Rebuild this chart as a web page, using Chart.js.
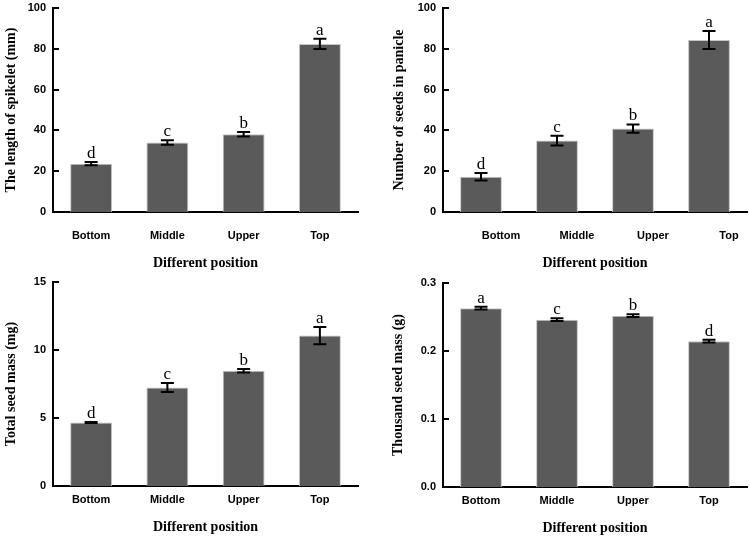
<!DOCTYPE html>
<html>
<head>
<meta charset="utf-8">
<script src="https://cdn.jsdelivr.net/npm/chart.js@4.4.1/dist/chart.umd.min.js"></script>
<style>
  body { margin: 0; background: #fff; }
  #wrap { position: relative; width: 750px; height: 538px; }
  canvas { position: absolute; }
</style>
</head>
<body>
<div id="wrap">
  <canvas id="c1" width="375" height="275" style="left:0;top:0"></canvas>
  <canvas id="c2" width="375" height="275" style="left:375px;top:0"></canvas>
  <canvas id="c3" width="375" height="269" style="left:0;top:269px"></canvas>
  <canvas id="c4" width="375" height="269" style="left:375px;top:269px"></canvas>
</div>
<script>
// data
const positions = ["Bottom", "Middle", "Upper", "Top"]
const xTitle = "Different position"

const spikeletLength = [23.7, 34.1, 38.1, 82.4]
const spikeletLengthErr = [0.8, 1.1, 1.1, 2.5]
const spikeletLetters = ["d", "c", "b", "a"]

const seedsInPanicle = [17.3, 35.0, 40.9, 84.3]
const seedsInPanicleErr = [1.8, 2.4, 2.0, 4.4]
const seedsLetters = ["d", "c", "b", "a"]

const totalSeedMass = [4.67, 7.25, 8.48, 11.06]
const totalSeedMassErr = [0.03, 0.33, 0.13, 0.63]
const totalMassLetters = ["d", "c", "b", "a"]

const thousandSeedMass = [0.263, 0.246, 0.252, 0.2145]
const thousandSeedMassErr = [0.002, 0.002, 0.002, 0.002]
const thousandLetters = ["a", "c", "b", "d"]

Chart.defaults.font.family = "'Liberation Sans', Arial, sans-serif"
Chart.defaults.color = "#000"

// error bars, significance letters and inward y ticks
const errorBarPlugin = {
  id: "errorBars",
  afterDatasetsDraw(chart, args, opts) {
    const ctx = chart.ctx
    const y = chart.scales.y
    const area = chart.chartArea
    ctx.save()
    ctx.strokeStyle = "#000"
    ctx.lineWidth = 2
    y.ticks.forEach(function (t) {
      const py = Math.round(y.getPixelForValue(t.value))
      ctx.beginPath()
      ctx.moveTo(area.left, py)
      ctx.lineTo(area.left + 6, py)
      ctx.stroke()
    })
    const meta = chart.getDatasetMeta(0)
    const values = chart.data.datasets[0].data
    meta.data.forEach(function (bar, i) {
      const v = values[i]
      const e = opts.errors[i]
      const top = y.getPixelForValue(v + e)
      const bot = y.getPixelForValue(v - e)
      ctx.beginPath()
      ctx.moveTo(bar.x, top)
      ctx.lineTo(bar.x, bot)
      ctx.moveTo(bar.x - 6.5, top)
      ctx.lineTo(bar.x + 6.5, top)
      ctx.moveTo(bar.x - 6.5, bot)
      ctx.lineTo(bar.x + 6.5, bot)
      ctx.stroke()
      ctx.fillStyle = "#000"
      ctx.font = "17px 'Liberation Serif', 'Times New Roman', serif"
      ctx.textAlign = "center"
      ctx.textBaseline = "alphabetic"
      ctx.fillText(opts.letters[i], bar.x, top - 4)
    })
    ctx.restore()
  },
}

function makeChart(id, values, errors, letters, yMax, yStep, yTitle, decimals, lay) {
  return new Chart(document.getElementById(id), {
    type: "bar",
    data: {
      labels: positions,
      datasets: [
        {
          data: values,
          backgroundColor: "#5a5a5a",
          borderColor: "#c4c4c4",
          borderWidth: 1,
          barPercentage: 0.55,
          categoryPercentage: 1,
        },
      ],
    },
    options: {
      responsive: false,
      animation: false,
      layout: {
        autoPadding: false,
        padding: { left: 0, top: lay.top, right: lay.right, bottom: 0 },
      },
      plugins: {
        legend: { display: false },
        tooltip: { enabled: false },
        errorBars: { errors: errors, letters: letters },
      },
      scales: {
        x: {
          grid: { display: false, drawTicks: false },
          border: { color: "#000", width: 2 },
          ticks: {
            padding: lay.xTickPad,
            labelOffset: lay.labelOffset,
            font: { size: 11, weight: "bold" },
          },
          title: {
            display: true,
            text: xTitle,
            font: { family: "'Liberation Serif', 'Times New Roman', serif", size: 14, weight: "bold" },
            padding: { top: 0, bottom: lay.xTitlePad },
          },
          afterFit(scale) {
            scale.height = lay.xHeight
            scale.paddingLeft = 0
            scale.paddingRight = 0
          },
        },
        y: {
          min: 0,
          max: yMax,
          grid: { display: false, drawTicks: false },
          border: { color: "#000", width: 2 },
          ticks: {
            stepSize: yStep,
            padding: 7,
            font: { size: 11, weight: "bold" },
            callback: function (v) {
              return v.toFixed(decimals)
            },
          },
          title: {
            display: true,
            text: yTitle,
            font: { family: "'Liberation Serif', 'Times New Roman', serif", size: 14, weight: "bold" },
            padding: { top: lay.yTitlePad, bottom: 0 },
          },
          afterFit(scale) {
            scale.width = lay.yWidth
            scale.paddingTop = 0
            scale.paddingBottom = 0
          },
        },
      },
    },
    plugins: [errorBarPlugin],
  })
}

makeChart("c1", spikeletLength, spikeletLengthErr, spikeletLetters, 100, 20,
  "The length of spikelet (mm)", 0,
  { top: 8, right: 17, yWidth: 53, xHeight: 63, xTickPad: 17, xTitlePad: 3.6, yTitlePad: 3, labelOffset: 0 })

makeChart("c2", seedsInPanicle, seedsInPanicleErr, seedsLetters, 100, 20,
  "Number of seeds in panicle", 0,
  { top: 8, right: 3, yWidth: 68, xHeight: 63, xTickPad: 17, xTitlePad: 3.6, yTitlePad: 16, labelOffset: 20 })

makeChart("c3", totalSeedMass, totalSeedMassErr, totalMassLetters, 15, 5,
  "Total seed mass (mg)", 0,
  { top: 13, right: 17, yWidth: 53, xHeight: 52, xTickPad: 7, xTitlePad: 2.6, yTitlePad: 3, labelOffset: 0 })

makeChart("c4", thousandSeedMass, thousandSeedMassErr, thousandLetters, 0.3, 0.1,
  "Thousand seed mass (g)", 1,
  { top: 14, right: 3, yWidth: 68, xHeight: 51, xTickPad: 7, xTitlePad: 1.6, yTitlePad: 15, labelOffset: 0 })
</script>
</body>
</html>
